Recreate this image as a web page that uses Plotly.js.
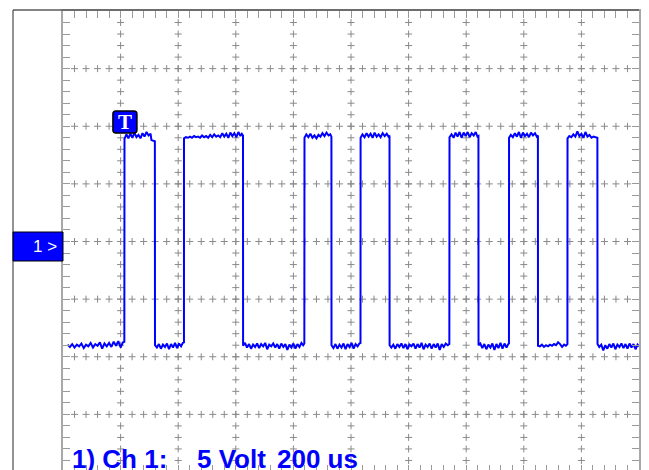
<!DOCTYPE html>
<html>
<head>
<meta charset="utf-8">
<script src="https://cdn.plot.ly/plotly-3.0.1.min.js"></script>
<style>
html,body{margin:0;padding:0;background:#fff;overflow:hidden;}
#chart{width:649px;height:472px;}
</style>
</head>
<body>
<div id="chart"></div>
<script>
// Channel 1 trace: time in microseconds, level in volts (5 V/div, 200 us/div)
const timeUs = [
  16,24,32,40,48,56,64,72,80,88,96,104,112,120,128,136,144,152,160,168,176,184,192,200,208,213,
  213.5,220,227,234,241,248,255,262,269,276,283,290,297,304,307,313,319,
  319.4,326,333,340,347,354,361,368,375,382,389,396,403,410,416,420,
  420.1,427,434,441,448,455,462,469,476,483,490,497,504,511,518,525,532,539,546,553,560,567,574,581,588,595,602,609,616,621,625,
  625.3,632,639,646,653,660,667,674,681,688,695,702,709,716,723,730,737,744,751,758,765,772,779,786,793,800,807,814,821,828,834,838,
  838.5,845,852,859,866,873,880,887,894,901,908,915,922,928,932,
  932.3,939,946,953,960,967,974,981,988,995,1002,1009,1016,1023,1029,1033,
  1033.3,1040,1047,1054,1061,1068,1075,1082,1089,1096,1103,1110,1117,1124,1130,1133.7,
  1134,1140,1147,1154,1161,1168,1175,1182,1189,1196,1203,1210,1217,1224,1231,1238,1245,1252,1259,1266,1273,1280,1287,1294,1301,1308,1315,1322,1329,1336,1341.5,
  1342,1349,1356,1363,1370,1377,1384,1391,1398,1405,1412,1419,1426,1433,1439,1442.5,
  1442.8,1449,1456,1463,1470,1477,1484,1491,1498,1505,1512,1519,1526,1533,1540,1546,1548.5,
  1548.8,1555,1562,1569,1576,1583,1590,1597,1604,1611,1618,1625,1632,1639,1645,1649,
  1649.3,1656,1663,1670,1677,1684,1691,1698,1705,1712,1719,1726,1733,1740,1746,1751.5,
  1751.8,1758,1765,1772,1779,1786,1793,1800,1807,1814,1821,1828,1835,1842,1849,1855.5,
  1856,1862,1869,1876,1883,1890,1897,1904,1911,1918,1925,1932,1939,1946,1953,1960,1967,1974,1981,1988,1995,2000
];
const volts = [
  -8.95,-9.15,-8.9,-9.2,-8.95,-9.1,-8.85,-9.25,-8.95,-9.1,-8.8,-9.2,-8.9,-9.05,-8.75,-9.3,-8.85,-9.1,-8.8,-9.15,-8.7,-9.05,-8.65,-9.2,-8.75,-8.7,
  8.9,9.3,8.95,9.35,9.0,9.45,9.05,9.25,8.95,9.4,9.1,9.5,9.2,9.35,8.8,8.75,8.7,
  -9.0,-9.2,-8.9,-9.3,-8.95,-9.15,-8.85,-9.35,-8.9,-9.2,-8.8,-9.25,-8.85,-9.1,-8.8,-8.75,
  8.95,9.05,9.0,9.1,9.0,9.15,9.05,9.1,9.0,9.2,9.05,9.15,9.0,9.25,9.05,9.3,9.1,9.2,9.05,9.4,9.1,9.35,9.0,9.45,9.15,9.4,9.05,9.5,9.15,9.35,9.2,
  -9.05,-8.8,-9.2,-8.9,-9.3,-8.95,-9.15,-8.85,-9.25,-8.9,-9.1,-8.8,-9.35,-8.95,-9.1,-8.85,-9.2,-8.9,-9.3,-8.85,-9.15,-8.9,-9.4,-8.95,-9.2,-8.85,-9.3,-8.9,-9.15,-8.8,-9.0,-8.85,
  9.0,9.3,9.05,9.35,9.0,9.2,8.95,9.25,9.1,9.4,9.15,9.45,9.2,9.3,9.1,
  -9.0,-9.25,-8.9,-9.3,-8.95,-9.2,-8.85,-9.35,-8.9,-9.15,-8.8,-9.3,-8.9,-9.1,-8.85,-8.8,
  9.0,9.3,9.05,9.4,9.1,9.35,9.0,9.45,9.1,9.3,9.05,9.4,9.15,9.35,9.1,9.2,
  -9.0,-9.2,-8.95,-9.3,-8.9,-9.15,-8.85,-9.25,-8.9,-9.35,-8.95,-9.1,-8.85,-9.3,-8.9,-9.2,-8.8,-9.35,-8.95,-9.15,-8.85,-9.3,-8.9,-9.2,-8.85,-9.4,-8.9,-9.15,-8.85,-9.0,-8.9,
  9.05,9.3,9.0,9.45,9.1,9.5,9.0,9.45,9.15,9.5,9.05,9.4,9.2,9.5,9.1,9.15,
  -9.0,-8.85,-9.25,-8.9,-9.35,-8.95,-9.2,-8.85,-9.4,-8.9,-9.25,-8.8,-9.3,-8.85,-9.2,-8.9,-8.85,
  9.0,9.25,9.05,9.4,9.1,9.5,9.0,9.45,9.15,9.35,9.05,9.45,9.2,9.4,9.1,9.2,
  -9.05,-9.1,-8.95,-9.15,-9.0,-9.1,-8.95,-9.05,-8.9,-9.0,-8.75,-8.9,-9.15,-8.95,-9.05,-8.9,
  8.95,9.15,9.05,9.3,9.1,9.55,9.15,9.35,9.0,9.5,9.1,9.25,9.0,9.1,9.05,9.0,
  -8.9,-9.15,-8.95,-9.45,-9.0,-9.3,-8.9,-9.2,-8.85,-9.35,-8.95,-9.15,-8.85,-9.25,-8.9,-9.3,-8.85,-9.2,-8.9,-9.35,-8.95,-9.1
];
const triggerTimeUs = 215;
const triggerMarkVolts = 10.37;
const statusLabels = ["1) Ch 1:", "5 Volt", "200 us"];
const channelLabel = "1 >";

// screen geometry: 10 x 200 us horizontally, 8 x 5 V vertically
const xRange = [0, 2000], yRange = [-20, 20];
const gridX = [], gridY = [];
for (let mx = 200; mx <= 1800; mx += 200) {
  for (let v = -19; v <= 19; v += 1) { gridX.push(mx); gridY.push(v); }
}
for (let my = -15; my <= 15; my += 5) {
  for (let t = 40; t <= 1960; t += 40) { gridX.push(t); gridY.push(my); }
}

const gray = '#8a8a8a';
const traces = [
  {x: gridX, y: gridY, type: 'scatter', mode: 'markers', hoverinfo: 'skip',
   marker: {symbol: 'cross-thin', size: 5, line: {color: gray, width: 1}, color: gray}},
  {x: timeUs, y: volts, type: 'scatter', mode: 'lines',
   line: {color: '#0000ff', width: 2}}
];

const axisCommon = {
  showgrid: false, zeroline: false, showticklabels: false,
  ticks: 'inside', ticklen: 7, tickwidth: 1, tickcolor: '#9a9a9a',
  showline: true, linecolor: '#a8a8a8', linewidth: 2, mirror: 'ticks', fixedrange: true
};

const layout = {
  width: 649, height: 472,
  margin: {l: 63, r: 10, t: 11, b: 0, pad: 0},
  paper_bgcolor: '#ffffff', plot_bgcolor: '#ffffff',
  showlegend: false,
  xaxis: Object.assign({}, axisCommon, {range: xRange, tick0: 0, dtick: 40}),
  yaxis: Object.assign({}, axisCommon, {range: yRange, tick0: -20, dtick: 1}),
  shapes: [
    {type: 'line', xref: 'paper', yref: 'paper', x0: -0.0868, x1: 1.0, y0: 1.0022, y1: 1.0022,
     line: {color: '#5a5a5a', width: 1.5}},
    {type: 'line', xref: 'paper', yref: 'paper', x0: -0.0868, x1: -0.0868, y0: 1.0022, y1: -0.02,
     line: {color: '#4a4a4a', width: 1.2}},
    {type: 'rect', xref: 'paper', yref: 'paper', x0: -0.0868, x1: 0, y0: 0.4577, y1: 0.5206,
     fillcolor: '#0000ff', line: {color: '#000000', width: 1}},
    {type: 'path', xref: 'x', yref: 'y', xsizemode: 'pixel', ysizemode: 'pixel',
     xanchor: triggerTimeUs, yanchor: triggerMarkVolts, layer: 'above',
     path: 'M -9 -11 L 9 -11 Q 12 -11 12 -8 L 12 8 Q 12 11 9 11 L -9 11 Q -12 11 -12 8 L -12 -8 Q -12 -11 -9 -11 Z',
     fillcolor: '#0000ff', line: {color: '#000000', width: 1.5}}
  ],
  annotations: [
    {xref: 'x', yref: 'y', x: triggerTimeUs, y: triggerMarkVolts, text: '<b>T</b>', showarrow: false,
     xanchor: 'center', yanchor: 'middle',
     font: {family: 'Liberation Serif, DejaVu Serif, serif', size: 21, color: '#ffffff'}},
    {xref: 'paper', yref: 'paper', x: -0.0069, y: 0.4902, text: channelLabel, showarrow: false,
     xanchor: 'right', yanchor: 'middle',
     font: {family: 'Liberation Sans, Arial, sans-serif', size: 17, color: '#ffffff'}},
    {xref: 'paper', yref: 'paper', x: 0.0113, y: 0.064, text: statusLabels[0], showarrow: false,
     xanchor: 'left', yanchor: 'top',
     font: {family: 'Liberation Sans, Arial, sans-serif', size: 26, color: '#0000ff', weight: 'bold'}},
    {xref: 'paper', yref: 'paper', x: 0.2286, y: 0.064, text: statusLabels[1], showarrow: false,
     xanchor: 'left', yanchor: 'top',
     font: {family: 'Liberation Sans, Arial, sans-serif', size: 26, color: '#0000ff', weight: 'bold'}},
    {xref: 'paper', yref: 'paper', x: 0.368, y: 0.064, text: statusLabels[2], showarrow: false,
     xanchor: 'left', yanchor: 'top',
     font: {family: 'Liberation Sans, Arial, sans-serif', size: 26, color: '#0000ff', weight: 'bold'}}
  ]
};

Plotly.newPlot('chart', traces, layout, {displayModeBar: false, staticPlot: true});
</script>
</body>
</html>
